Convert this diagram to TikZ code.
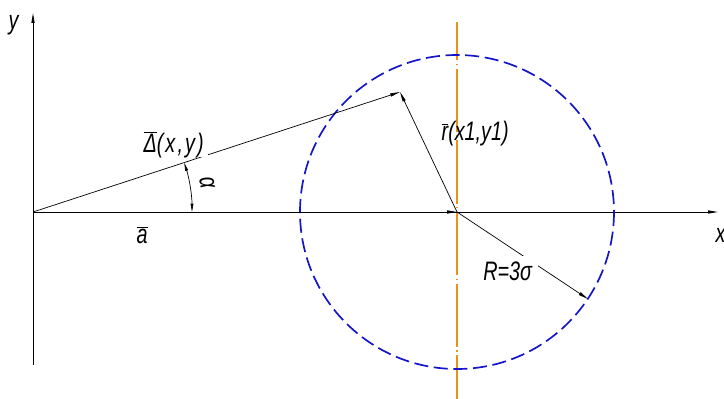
\documentclass[tikz,border=0pt]{standalone}
\usepackage{fontspec}
\newfontfamily\cadfont[FakeStretch=0.74]{Liberation Sans}
\usetikzlibrary{arrows.meta}

\definecolor{cblue}{RGB}{20,20,200}
\definecolor{corange}{RGB}{235,145,25}
\newcommand{\barred}[1]{$\overline{\mbox{#1}}$}

\begin{document}
\begin{tikzpicture}[
    x=0.025cm, y=-0.025cm,
    axis/.style={line width=0.6pt, -{Triangle[length=7pt, width=2.2pt]}},
    vec/.style={line width=0.5pt, -{Triangle[length=7pt, width=2.2pt]}},
    angarr/.style={line width=0.5pt, {Triangle[length=6pt, width=2pt]}-{Triangle[length=6pt, width=2pt]}},
    lbl/.style={font=\cadfont\itshape\fontsize{19}{22}\selectfont, inner sep=1pt, anchor=base west},
    gapped/.style={lbl, fill=white},
    scatter/.style={cblue, line width=1.2pt, dash pattern=on 10pt off 4pt},
    centerline/.style={corange, line width=0.8pt, dash pattern=on 45pt off 2.5pt on 1pt off 2.5pt}
]

\useasboundingbox (0,0) rectangle (724,399);

% points
\coordinate (O) at (33,212);
\coordinate (C) at (457,212);
\coordinate (P) at (400,92);
\coordinate (ybot) at (33,365);
\coordinate (ytop) at (33,13);
\coordinate (xend) at (718,212);
\coordinate (cbot) at (457,399);
\coordinate (ctop) at (457,22);
\coordinate (Rp) at (588,299);

% centre line of the scatter circle
\draw[centerline, dash phase=14pt] (cbot) -- (ctop);

% axes
\draw[axis] (ybot) -- (ytop);
\draw[axis] (O) -- (xend);
\node[lbl] (ylbl) at (7,30) {y};
\node[lbl] (xlbl) at (714,243) {x};

% scatter circle
\draw[scatter] (C) circle[radius=157];

% vectors
\draw[vec] (O) -- (C);
\draw[vec] (O) -- (P);
\draw[vec] (C) -- (P);
\draw[vec] (C) -- (Rp);

\node[lbl] (albl) at (135,244) {\barred{a}};
\node[gapped, inner sep=3pt, text depth=0pt] (dlbl) at (139,153)
    {\addfontfeature{LetterSpace=8}\barred{Δ}(x,y)};
\node[lbl] (rlbl) at (440,141) {\barred{r}(x1,y1)};
\node[gapped, inner sep=4.3pt] (Rlbl) at (477,281) {R=3σ};

% angle
\draw[angarr] (192,212) arc[start angle=0, end angle=-18.1, radius=159];
\node[lbl, anchor=center, rotate=-80] (alpha) at (207,183) {α};

\end{tikzpicture}
\end{document}
